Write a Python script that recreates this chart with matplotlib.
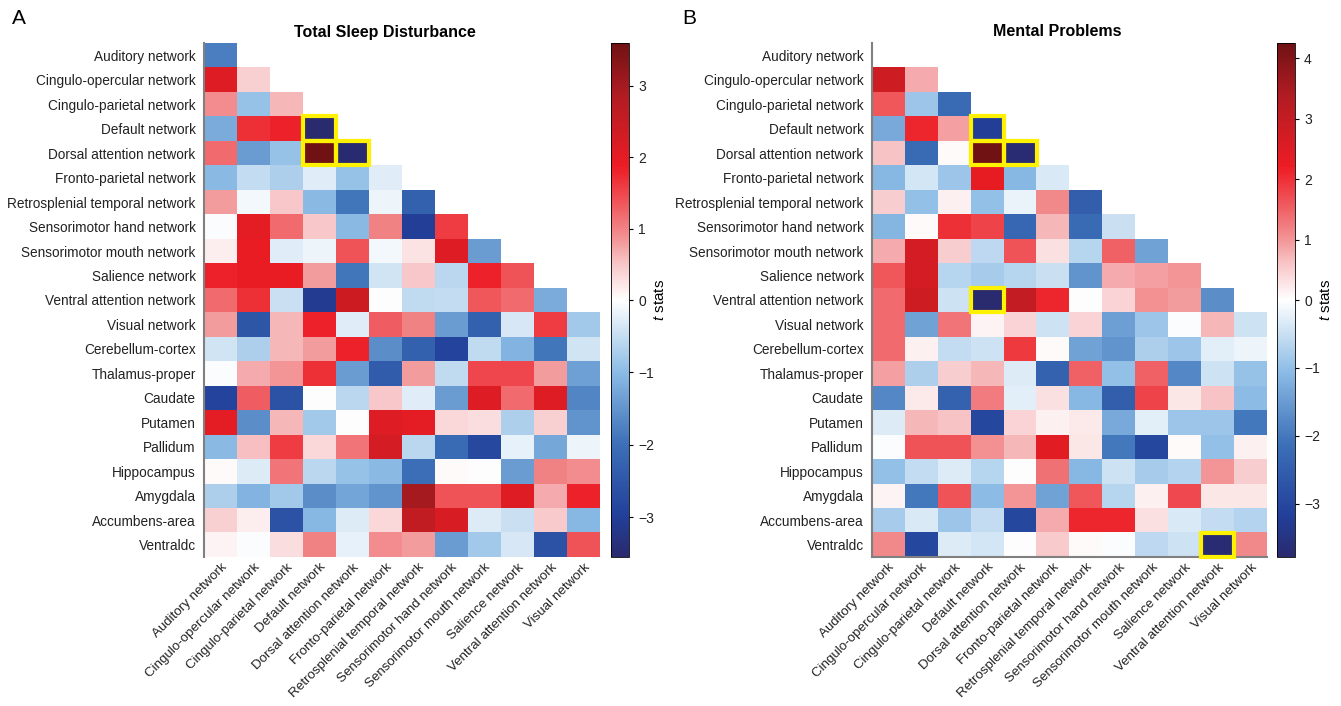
import numpy as np
import matplotlib

matplotlib.use("Agg")
import matplotlib.pyplot as plt
import matplotlib.transforms as mtransforms
from matplotlib.colors import LinearSegmentedColormap, TwoSlopeNorm
from matplotlib.patches import Rectangle

plt.rcParams["font.family"] = ["Liberation Sans", "DejaVu Sans"]
plt.rcParams["mathtext.fontset"] = "custom"
plt.rcParams["mathtext.it"] = "Liberation Sans:italic"

networks = ["Auditory network", "Cingulo-opercular network", "Cingulo-parietal network",
            "Default network", "Dorsal attention network", "Fronto-parietal network",
            "Retrosplenial temporal network", "Sensorimotor hand network",
            "Sensorimotor mouth network", "Salience network", "Ventral attention network",
            "Visual network"]
subcortical = ["Cerebellum-cortex", "Thalamus-proper", "Caudate", "Putamen", "Pallidum",
               "Hippocampus", "Amygdala", "Accumbens-area", "Ventraldc"]
row_labels = networks + subcortical
col_labels = networks

# t stats, Total Sleep Disturbance (lower triangle for network rows)
tsd_rows = [
    [-1.8],
    [2.1, 0.4],
    [0.9, -0.9, 0.6],
    [-1.2, 1.7, 1.8, -3.55],
    [1.2, -1.4, -0.9, 3.6, -3.5],
    [-1.0, -0.5, -0.7, -0.25, -0.9, -0.25],
    [0.8, -0.1, 0.5, -1.0, -1.9, -0.15, -2.3],
    [-0.05, 2.0, 1.2, 0.5, -1.0, 1.0, -3.0, 1.6],
    [0.15, 1.9, -0.25, -0.15, 1.4, -0.1, 0.25, 2.1, -1.4],
    [1.8, 1.9, 1.9, 0.8, -1.9, -0.4, 0.5, -0.6, 1.8, 1.4],
    [1.2, 1.7, -0.45, -3.1, 2.4, 0.0, -0.55, -0.5, 1.35, 1.2, -1.2],
    [0.8, -2.5, 0.6, 1.8, -0.25, 1.3, 1.0, -1.4, -2.3, -0.35, 1.6, -0.8],
    [-0.4, -0.7, 0.6, 0.8, 1.8, -1.6, -2.3, -2.9, -0.55, -1.1, -1.9, -0.4],
    [-0.05, 0.7, 0.85, 1.7, -1.4, -2.4, 0.8, -0.55, 1.5, 1.5, 0.8, -1.35],
    [-2.9, 1.3, -2.6, 0.0, -0.6, 0.5, -0.25, -1.4, 2.1, 1.2, 2.1, -1.7],
    [2.0, -1.6, 0.6, -0.8, 0.0, 2.1, 2.0, 0.35, 0.3, -0.7, 0.4, -1.5],
    [-1.0, 0.55, 1.6, 0.35, 1.1, 2.3, -0.6, -2.1, -2.8, -0.2, -1.25, -0.15],
    [0.05, -0.3, 1.1, -0.6, -0.9, -1.0, -2.0, 0.05, 0.0, -1.4, 1.0, 0.9],
    [-0.7, -1.1, -0.8, -1.6, -1.3, -1.5, 3.0, 1.4, 1.4, 2.1, 0.7, 1.8],
    [0.4, 0.15, -2.6, -1.05, -0.3, 0.35, 2.6, 2.2, -0.3, -0.45, 0.45, -1.05],
    [0.1, -0.05, 0.3, 1.0, -0.2, 0.9, 0.8, -1.4, -0.8, -0.35, -2.6, 1.4],
]

# t stats, Mental Problems (Auditory row empty)
mp_rows = [
    [],
    [2.8, 0.8],
    [1.6, -0.9, -2.2],
    [-1.3, 2.1, 0.9, -3.2],
    [0.6, -2.2, 0.05, 4.25, -3.7],
    [-1.1, -0.4, -0.9, 2.3, -1.1, -0.35],
    [0.5, -1.0, 0.15, -1.0, -0.2, 1.1, -2.5],
    [-1.15, 0.05, 2.0, 1.8, -2.3, 0.7, -2.2, -0.5],
    [0.8, 2.7, 0.5, -0.6, 1.65, 0.3, -0.65, 1.5, -1.4],
    [1.6, 2.7, -0.65, -0.8, -0.65, -0.5, -1.6, 0.8, 0.9, 1.0],
    [1.4, 2.8, -0.45, -3.78, 3.0, 2.1, 0.0, 0.45, 1.05, 0.95, -1.7],
    [1.4, -1.4, 1.3, 0.1, 0.45, -0.45, 0.45, -1.45, -0.9, -0.05, 0.7, -0.45],
    [1.4, 0.15, -0.55, -0.45, 1.9, 0.05, -1.4, -1.6, -0.75, -0.9, -0.25, -0.15],
    [0.9, -0.75, 0.5, 0.7, -0.3, -2.4, 1.5, -1.0, 1.5, -1.8, -0.45, -0.95],
    [-1.8, 0.2, -2.4, 1.25, -0.25, 0.3, -1.1, -2.5, 1.8, 0.25, 0.6, -1.05],
    [-0.3, 0.7, 0.6, -3.0, 0.45, 0.15, 0.2, -1.3, -0.25, -0.9, -0.9, -2.0],
    [-0.05, 1.65, 1.65, 1.05, 0.7, 2.4, 0.25, -2.0, -3.0, 0.05, -1.0, 0.15],
    [-1.0, -0.55, -0.3, -0.65, 0.02, 1.35, -1.1, -0.45, -0.8, -0.7, 1.0, 0.5],
    [0.1, -2.0, 1.65, -1.05, 1.0, -1.4, 1.6, -0.65, 0.15, 1.75, 0.25, 0.25],
    [-0.8, -0.35, -0.9, -0.55, -3.0, 0.8, 2.1, 2.1, 0.3, -0.35, -0.55, -0.7],
    [1.1, -3.0, -0.3, -0.4, 0.0, 0.55, 0.05, -0.03, -0.6, -0.45, -3.7, 1.1],
]

# significant cells (row, col) outlined in yellow
sig_tsd = [(3, 3), (4, 3), (4, 4)]
sig_mp = [(3, 3), (4, 3), (4, 4), (10, 3), (20, 10)]


def to_matrix(rows):
    m = np.full((len(rows), len(col_labels)), np.nan)
    for i, r in enumerate(rows):
        m[i, :len(r)] = r
    return np.ma.masked_invalid(m)


cmap = LinearSegmentedColormap.from_list("tstat", [
    (0.00, "#2a2a6e"), (0.08, "#22409a"), (0.22, "#3c70b8"), (0.36, "#8cbce6"),
    (0.43, "#c6def2"), (0.50, "#ffffff"), (0.57, "#f8c6c8"), (0.63, "#f28a8c"),
    (0.76, "#ed1c24"), (0.90, "#b01c22"), (1.00, "#701214")])
cmap.set_bad("white")


def panel(fig, rect, cbrect, rows, sig, title, title_x, bottom_spine):
    data = to_matrix(rows)
    norm = TwoSlopeNorm(vcenter=0, vmin=data.min(), vmax=data.max())
    ax = fig.add_axes(rect)
    im = ax.imshow(data, cmap=cmap, norm=norm, aspect="auto", interpolation="nearest")
    for r, c in sig:
        ax.add_patch(Rectangle((c - 0.5, r - 0.5), 1, 1, fill=False,
                               edgecolor="#fff200", linewidth=3, clip_on=False, zorder=3))
    ax.set_yticks(range(len(row_labels)))
    ax.set_yticklabels(row_labels, fontsize=9.8, color="#222222")
    ax.set_xticks(range(len(col_labels)))
    ax.set_xticklabels(col_labels, fontsize=9.6, rotation=45, ha="right", va="top",
                       rotation_mode="anchor", color="#222222")
    shift = mtransforms.ScaledTranslation(9 / 100, 0, fig.dpi_scale_trans)
    for lab in ax.get_xticklabels():
        lab.set_transform(lab.get_transform() + shift)
    ax.tick_params(axis="y", length=0, pad=6)
    ax.tick_params(axis="x", length=0, pad=3)
    for s in ("top", "right"):
        ax.spines[s].set_visible(False)
    ax.spines["bottom"].set_visible(bottom_spine)
    for s in ("left", "bottom"):
        ax.spines[s].set_color("#808080")
        ax.spines[s].set_linewidth(1.5)
    fig.text(title_x, 1 - 32 / 706, title, fontsize=11.5, fontweight="bold",
             ha="center", va="center")

    cax = fig.add_axes(cbrect)
    cb = fig.colorbar(im, cax=cax)
    ticks = list(range(int(np.ceil(data.min())), int(np.floor(data.max())) + 1))
    cb.set_ticks(ticks)
    cb.set_ticklabels([str(t).replace("-", "\u2212") for t in ticks])
    cb.ax.tick_params(labelsize=10, length=3, width=0.8, labelcolor="#222222")
    cb.outline.set_linewidth(0.6)
    cb.set_label(r"$\mathit{t}$ stats", fontsize=11, labelpad=-1)
    return ax


fig = plt.figure(figsize=(13.41, 7.06), dpi=100)
W, H = 1341, 706
panel(fig, [204 / W, 1 - 557 / H, 396 / W, 514 / H], [611 / W, 1 - 557 / H, 18 / W, 514 / H],
      tsd_rows, sig_tsd, "Total Sleep Disturbance", 385 / W, False)
panel(fig, [872 / W, 1 - 557 / H, 395 / W, 514 / H], [1277 / W, 1 - 557 / H, 18 / W, 514 / H],
      mp_rows, sig_mp, "Mental Problems", 1057 / W, True)
fig.text(12 / W, 1 - 18 / H, "A", fontsize=15, ha="left", va="center")
fig.text(682 / W, 1 - 18 / H, "B", fontsize=15, ha="left", va="center")

fig.savefig("out.png", dpi=100)
